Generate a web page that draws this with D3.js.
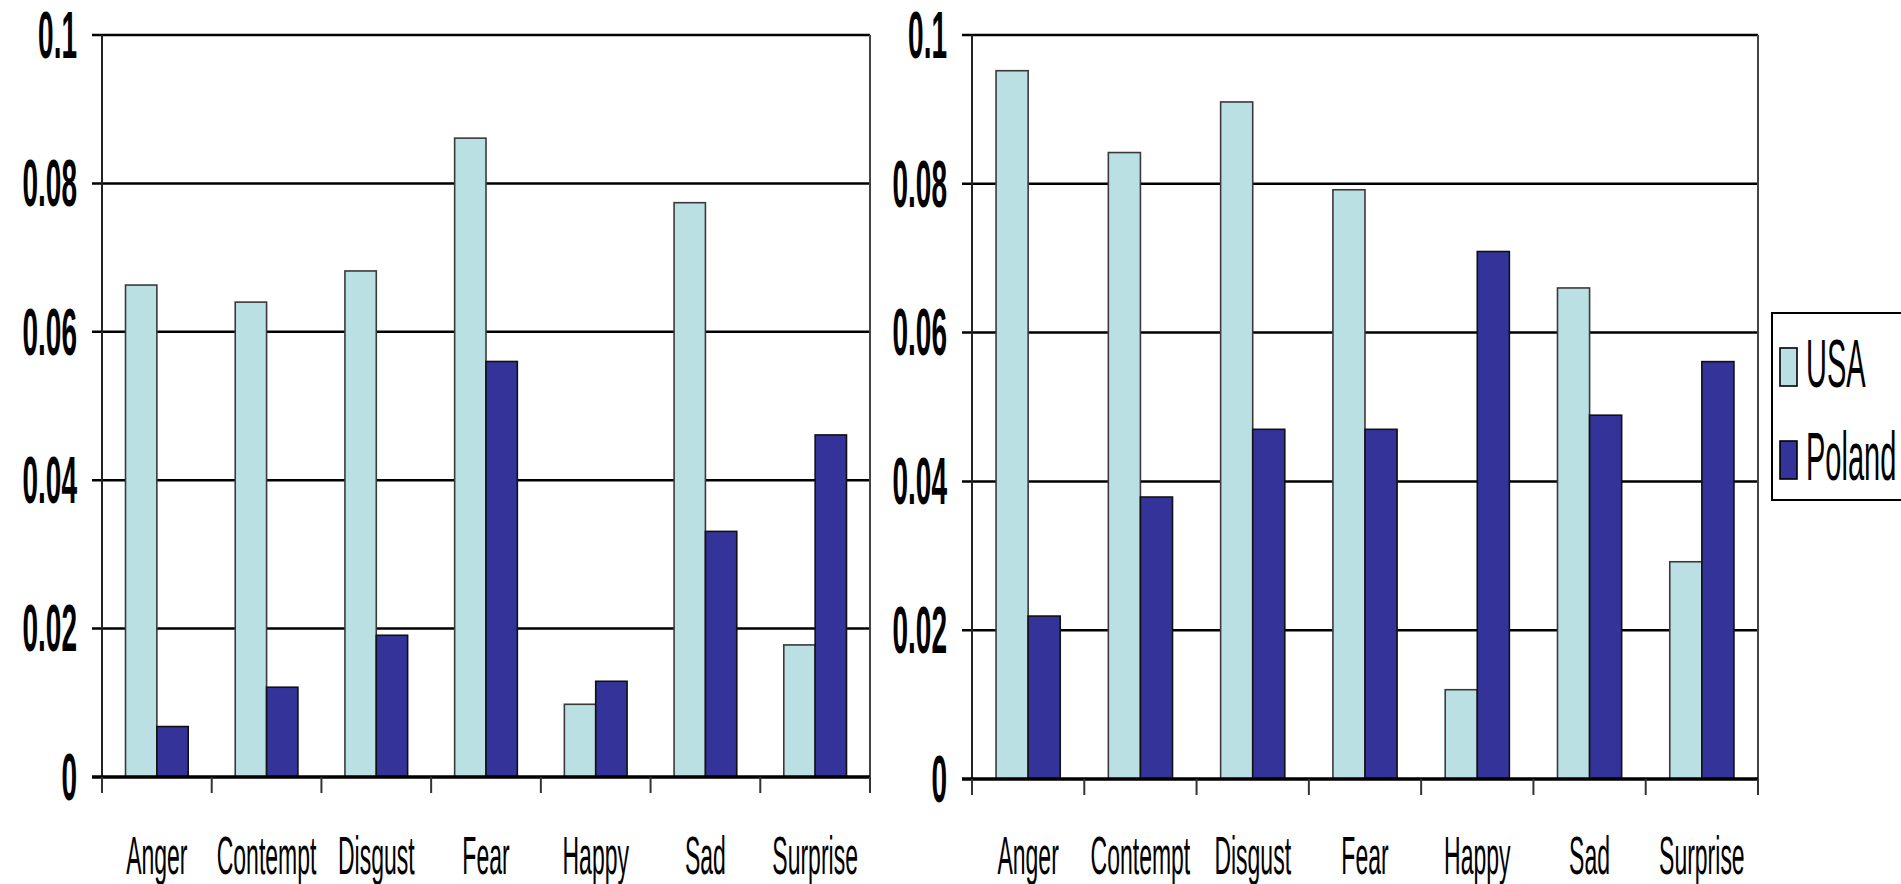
<!DOCTYPE html>
<html>
<head>
<meta charset="utf-8">
<script src="https://cdn.jsdelivr.net/npm/d3@7"></script>
<style>
  html, body { margin: 0; padding: 0; background: #fff; overflow: hidden; }
  svg { display: block; }
</style>
</head>
<body>
<svg id="chart" width="1901" height="884"></svg>
<script>
// Emotion categories shared by both panels
const categories = ["Anger", "Contempt", "Disgust", "Fear", "Happy", "Sad", "Surprise"];
const seriesNames = ["USA", "Poland"];
const seriesColors = ["#BBE0E3", "#333399"];
const yTicks = [0, 0.02, 0.04, 0.06, 0.08, 0.1];
const yTickLabels = ["0", "0.02", "0.04", "0.06", "0.08", "0.1"];

// Left panel values
const leftUSA    = [0.0663, 0.0640, 0.0682, 0.0861, 0.0098, 0.0774, 0.0178];
const leftPoland = [0.0068, 0.0121, 0.0191, 0.0560, 0.0129, 0.0331, 0.0461];

// Right panel values
const rightUSA    = [0.0952, 0.0842, 0.0910, 0.0792, 0.0120, 0.0660, 0.0292];
const rightPoland = [0.0219, 0.0379, 0.0470, 0.0470, 0.0709, 0.0489, 0.0561];

const svg = d3.select("#chart");
const FONT = "'Liberation Sans', Arial, sans-serif";
const STRETCH = 2.35;

function drawPanel(cfg) {
  const { left, right, top, bottom, usa, poland } = cfg;
  const g = svg.append("g");

  const x = d3.scaleBand().domain(categories).range([left, right]).paddingInner(0).paddingOuter(0);
  const xs = d3.scaleBand().domain(seriesNames).range([0, x.bandwidth()]).paddingInner(0).paddingOuter(0.75);
  const y = d3.scaleLinear().domain([0, 0.1]).range([bottom, top]);

  // horizontal gridlines (with short outward ticks)
  g.selectAll("line.grid").data(yTicks.filter(d => d > 0)).join("line")
    .attr("x1", left - 10).attr("x2", right)
    .attr("y1", d => y(d)).attr("y2", d => y(d))
    .attr("stroke", "#000").attr("stroke-width", 2.5);

  // zero tick
  g.append("line").attr("x1", left - 10).attr("x2", left)
    .attr("y1", y(0)).attr("y2", y(0)).attr("stroke", "#000").attr("stroke-width", 2);

  // right border of plot area
  g.append("line").attr("x1", right).attr("x2", right)
    .attr("y1", y(0.1)).attr("y2", y(0))
    .attr("stroke", "#444").attr("stroke-width", 2);

  // bars
  const rows = categories.map((c, i) => ({ cat: c, vals: [usa[i], poland[i]] }));
  const grp = g.selectAll("g.cat").data(rows).join("g")
    .attr("transform", d => `translate(${x(d.cat)},0)`);
  grp.selectAll("rect").data(d => d.vals.map((v, k) => ({ v, s: seriesNames[k], k })))
    .join("rect")
    .attr("x", d => xs(d.s))
    .attr("width", xs.bandwidth())
    .attr("y", d => y(d.v))
    .attr("height", d => y(0) - y(d.v))
    .attr("fill", d => seriesColors[d.k])
    .attr("stroke", d => d.k === 0 ? "#3a3a3a" : "#111")
    .attr("stroke-width", 1.6);

  // y axis line
  g.append("line").attr("x1", left).attr("x2", left)
    .attr("y1", y(0.1)).attr("y2", y(0))
    .attr("stroke", "#222").attr("stroke-width", 2);

  // x axis line
  g.append("line").attr("x1", left - 10).attr("x2", right)
    .attr("y1", y(0)).attr("y2", y(0))
    .attr("stroke", "#000").attr("stroke-width", 3.5);

  // category boundary ticks
  const bounds = categories.map(c => x(c)).concat([right]);
  g.selectAll("line.xt").data(bounds).join("line")
    .attr("x1", d => d).attr("x2", d => d)
    .attr("y1", y(0)).attr("y2", y(0) + 16)
    .attr("stroke", "#333").attr("stroke-width", 2);

  // y tick labels
  g.selectAll("text.yl").data(yTicks).join("text")
    .attr("transform", d => `translate(${left - 25},${y(d)}) scale(1,${STRETCH})`)
    .attr("text-anchor", "end")
    .attr("dominant-baseline", "central")
    .attr("font-family", FONT).attr("font-weight", "bold").attr("font-size", 28)
    .attr("fill", "#000")
    .text((d, i) => yTickLabels[i]);

  // category labels
  g.selectAll("text.xl").data(categories).join("text")
    .attr("transform", d => `translate(${x(d) + x.bandwidth() / 2},874) scale(1,${STRETCH})`)
    .attr("text-anchor", "middle")
    .attr("font-family", FONT).attr("font-size", 23)
    .attr("fill", "#000")
    .text(d => d);
}

drawPanel({ left: 102, right: 870, top: 35, bottom: 777, usa: leftUSA, poland: leftPoland });
drawPanel({ left: 972, right: 1758, top: 35, bottom: 779, usa: rightUSA, poland: rightPoland });

// legend
const legend = svg.append("g");
legend.append("rect")
  .attr("x", 1772).attr("y", 313).attr("width", 140).attr("height", 187)
  .attr("fill", "#fff").attr("stroke", "#000").attr("stroke-width", 2);
const legendRows = [{ name: seriesNames[0], color: seriesColors[0], y: 348 },
                    { name: seriesNames[1], color: seriesColors[1], y: 441 }];
legend.selectAll("rect.sw").data(legendRows).join("rect")
  .attr("x", 1780).attr("y", d => d.y).attr("width", 17).attr("height", 38)
  .attr("fill", d => d.color).attr("stroke", "#000").attr("stroke-width", 1.6);
legend.selectAll("text.lt").data(legendRows).join("text")
  .attr("transform", d => `translate(1806,${d.y + 39}) scale(1,${STRETCH})`)
  .attr("font-family", FONT).attr("font-size", 29)
  .attr("fill", "#000")
  .text(d => d.name);
</script>
</body>
</html>
